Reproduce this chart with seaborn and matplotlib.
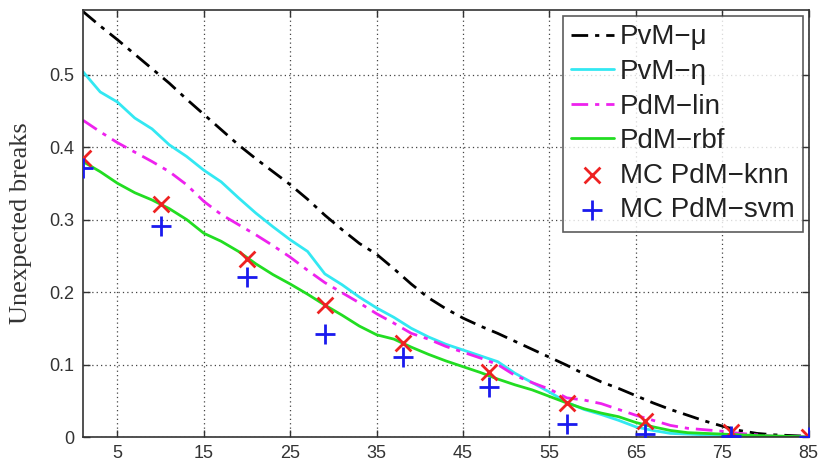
import numpy as np
import pandas as pd
import matplotlib
matplotlib.use("Agg")
import matplotlib.pyplot as plt
import seaborn as sns

# Number of PM actions (x) and fraction of unexpected breaks for each policy
x_grid = [1, 3, 5, 7, 9, 11, 13, 15, 17, 19, 21, 23, 25, 27, 29, 31, 33, 35, 37, 39,
          41, 43, 45, 47, 49, 51, 53, 55, 57, 59, 61, 63, 65, 67, 69, 71, 73, 75, 77, 79,
          81, 83, 85]

pvm_mu = [0.587, 0.567, 0.548, 0.528, 0.508, 0.488, 0.466, 0.445, 0.424, 0.403, 0.384,
          0.366, 0.348, 0.328, 0.306, 0.286, 0.267, 0.252, 0.232, 0.211, 0.192, 0.177,
          0.164, 0.153, 0.143, 0.132, 0.121, 0.110, 0.099, 0.087, 0.076, 0.067, 0.057,
          0.047, 0.038, 0.030, 0.022, 0.015, 0.009, 0.005, 0.003, 0.002, 0.001]

pvm_eta = [0.504, 0.476, 0.462, 0.440, 0.425, 0.403, 0.387, 0.368, 0.352, 0.330, 0.309,
           0.290, 0.272, 0.256, 0.225, 0.210, 0.193, 0.178, 0.165, 0.150, 0.138, 0.128,
           0.120, 0.112, 0.104, 0.088, 0.075, 0.062, 0.048, 0.038, 0.031, 0.023, 0.014,
           0.009, 0.005, 0.004, 0.003, 0.002, 0.001, 0.001, 0.0005, 0.0002, 0.0]

pdm_lin = [0.437, 0.421, 0.406, 0.393, 0.380, 0.366, 0.348, 0.325, 0.307, 0.293, 0.279,
           0.264, 0.248, 0.230, 0.213, 0.199, 0.185, 0.170, 0.157, 0.143, 0.135, 0.125,
           0.117, 0.109, 0.100, 0.085, 0.075, 0.066, 0.054, 0.051, 0.046, 0.038, 0.030,
           0.023, 0.016, 0.012, 0.010, 0.008, 0.005, 0.003, 0.001, 0.0005, 0.0]

pdm_rbf = [0.380, 0.366, 0.350, 0.337, 0.327, 0.315, 0.300, 0.281, 0.270, 0.256, 0.239,
           0.224, 0.211, 0.197, 0.182, 0.168, 0.153, 0.141, 0.135, 0.124, 0.114, 0.105,
           0.097, 0.089, 0.080, 0.072, 0.065, 0.056, 0.047, 0.039, 0.033, 0.028, 0.020,
           0.014, 0.009, 0.006, 0.005, 0.004, 0.003, 0.002, 0.0015, 0.0008, 0.0]

# Multi-classifier results at selected operating points
x_mc = [1, 10, 20, 29, 38, 48, 57, 66, 76, 85]
mc_knn = [0.385, 0.321, 0.246, 0.182, 0.129, 0.089, 0.0465, 0.0225, 0.0073, 0.0]
mc_svm = [0.371, 0.291, 0.221, 0.142, 0.110, 0.069, 0.018, 0.004, 0.001, 0.0]

x_ticks = [5, 15, 25, 35, 45, 55, 65, 75, 85]
y_ticks = [0, 0.1, 0.2, 0.3, 0.4, 0.5]
y_tick_labels = ["0", "0.1", "0.2", "0.3", "0.4", "0.5"]

sns.set_theme(style="white")
plt.rcParams["font.family"] = ["Liberation Sans", "DejaVu Sans"]

fig = plt.figure(figsize=(8.21, 4.66), dpi=100)
ax = fig.add_axes([0.101, 0.0622, 0.884, 0.9163])

lines = pd.DataFrame({"x": x_grid, "mu": pvm_mu, "eta": pvm_eta,
                      "lin": pdm_lin, "rbf": pdm_rbf})
mc = pd.DataFrame({"x": x_mc, "knn": mc_knn, "svm": mc_svm})

dashdot = (0, (6, 2.5, 1.5, 2.5))
line_specs = [
    ("mu", "PvM\u2212\u03bc", "black", dashdot),
    ("eta", "PvM\u2212\u03b7", "#33e8f2", "-"),
    ("lin", "PdM\u2212lin", "#ee22ee", dashdot),
    ("rbf", "PdM\u2212rbf", "#22dd22", "-"),
]
for col, label, color, ls in line_specs:
    sns.lineplot(data=lines, x="x", y=col, ax=ax, color=color, linewidth=2,
                 linestyle=ls, label=label, estimator=None, sort=False)

sns.scatterplot(data=mc, x="x", y="knn", ax=ax, marker="x", color="#ee2222",
                s=130, linewidth=2, label="MC PdM\u2212knn", zorder=5)
sns.scatterplot(data=mc, x="x", y="svm", ax=ax, marker="+", color="#1a1aee",
                s=190, linewidth=2, label="MC PdM\u2212svm", zorder=5)

ax.set_xlim(1, 85)
ax.set_ylim(0, 0.589)
ax.set_xticks(x_ticks)
ax.set_xticklabels([str(t) for t in x_ticks])
ax.set_yticks(y_ticks)
ax.set_yticklabels(y_tick_labels)
ax.tick_params(axis="both", which="both", direction="in", length=5, width=1,
               top=True, right=True, bottom=True, left=True,
               labelsize=13, colors="#333333", pad=6)
ax.grid(True, linestyle=(0, (1, 2.5)), color="#444444", linewidth=0.9)
for side in ["top", "right", "bottom", "left"]:
    ax.spines[side].set_visible(True)
    ax.spines[side].set_color("#333333")
    ax.spines[side].set_linewidth(1.2)

ax.set_xlabel("")
ax.set_ylabel("Unexpected breaks", fontfamily=["Liberation Serif", "DejaVu Serif"],
              fontsize=19, color="#333333")
ax.yaxis.set_label_coords(-0.070, 0.5)

leg = ax.legend(loc="upper right", bbox_to_anchor=(0.9917, 0.986), fontsize=20,
                frameon=True, fancybox=False, handlelength=1.55, handletextpad=0.2,
                labelspacing=0.31, borderpad=0.3, borderaxespad=0.0)
leg.get_frame().set_edgecolor("#333333")
leg.get_frame().set_linewidth(1.2)
for t in leg.get_texts():
    t.set_color("#222222")

fig.savefig("out.png", dpi=100)
